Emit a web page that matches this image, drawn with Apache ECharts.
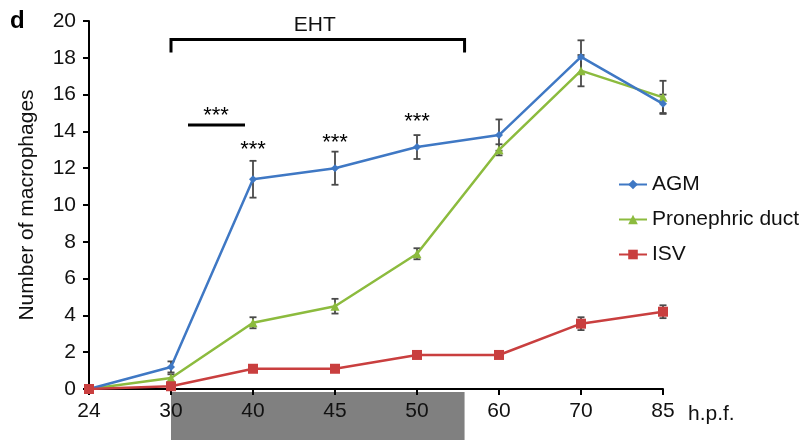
<!DOCTYPE html>
<html><head><meta charset="utf-8">
<script src="https://cdn.jsdelivr.net/npm/echarts@6/dist/echarts.min.js"></script>
<style>html,body{margin:0;padding:0;background:#fff}#c{width:804px;height:440px}</style>
</head><body><div id="c"></div>
<script>
var categories = ['24','30','40','45','50','60','70','85'];
var agm = [0, 1.2, 11.4, 12.0, 13.15, 13.8, 18.05, 15.5];
var agmErr = [0, 0.3, 1.0, 0.9, 0.65, 0.85, 0.9, 0.5];
var pro = [0, 0.6, 3.6, 4.5, 7.35, 13.0, 17.3, 15.85];
var proErr = [0, 0.2, 0.3, 0.4, 0.3, 0.3, 0.85, 0.9];
var isv = [0, 0.15, 1.1, 1.1, 1.85, 1.85, 3.55, 4.2];
var isvErr = [0, 0.1, 0.1, 0.05, 0.1, 0.1, 0.35, 0.35];
var sigLabels = [{idx:2, val:13.0, text:'***'}, {idx:3, val:13.4, text:'***'}, {idx:4, val:14.5, text:'***'}];

var colors = {agm:'#3f78c4', pro:'#8cbb3e', isv:'#c93f3f'};
var FONT = 'Liberation Sans, Arial, Helvetica, sans-serif';

function errSeries(vals, errs) {
  var d = vals.map(function(v,i){ return [i, v - errs[i], v + errs[i]]; });
  return {
    type:'custom', z:1, silent:true,
    renderItem:function(params, api){
      var x = api.value(0);
      var lo = api.coord([x, api.value(1)]);
      var hi = api.coord([x, api.value(2)]);
      var w = 3.5;
      var st = {stroke:'#4a4a4a', lineWidth:1.8};
      return {type:'group', children:[
        {type:'line', shape:{x1:lo[0],y1:lo[1],x2:hi[0],y2:hi[1]}, style:st},
        {type:'line', shape:{x1:lo[0]-w,y1:lo[1],x2:lo[0]+w,y2:lo[1]}, style:st},
        {type:'line', shape:{x1:hi[0]-w,y1:hi[1],x2:hi[0]+w,y2:hi[1]}, style:st}
      ]};
    },
    encode:{x:0, y:[1,2]},
    data:d
  };
}

var chart = echarts.init(document.getElementById('c'), null, {renderer:'canvas'});
var option = {
  animation:false,
  textStyle:{fontFamily:FONT},
  grid:{left:89, right:141, top:21, bottom:51, containLabel:false},
  legend:{
    orient:'vertical', left:613, top:169, itemGap:14, itemWidth:28, itemHeight:12,
    textStyle:{fontSize:21, color:'#111', fontFamily:FONT},
    data:['AGM','Pronephric duct','ISV']
  },
  xAxis:{
    type:'category', data:categories, boundaryGap:false,
    axisLine:{lineStyle:{color:'#000', width:2}},
    axisTick:{show:true, length:6, lineStyle:{color:'#000', width:2}},
    axisLabel:{fontSize:21, color:'#111', margin:12, fontFamily:FONT},
    splitLine:{show:false}
  },
  yAxis:{
    type:'value', min:0, max:20, interval:2,
    name:'Number of macrophages', nameLocation:'middle', nameRotate:90, nameGap:51,
    nameTextStyle:{fontSize:21, color:'#111', fontFamily:FONT},
    axisLine:{show:true, lineStyle:{color:'#000', width:2}},
    axisTick:{show:true, length:6, lineStyle:{color:'#000', width:2}},
    axisLabel:{fontSize:21, color:'#111', margin:13, fontFamily:FONT},
    splitLine:{show:false}
  },
  series:[
    errSeries(agm, agmErr),
    errSeries(pro, proErr),
    errSeries(isv, isvErr),
    {name:'AGM', type:'line', data:agm, z:3, color:colors.agm,
     symbol:'diamond', symbolSize:8, lineStyle:{width:2.5, color:colors.agm}, itemStyle:{color:colors.agm}},
    {name:'Pronephric duct', type:'line', data:pro, z:2, color:colors.pro,
     symbol:'triangle', symbolSize:9, lineStyle:{width:2.5, color:colors.pro}, itemStyle:{color:colors.pro}},
    {name:'ISV', type:'line', data:isv, z:4, color:colors.isv,
     symbol:'rect', symbolSize:10, lineStyle:{width:2.5, color:colors.isv}, itemStyle:{color:colors.isv}}
  ]
};
chart.setOption(option);

function px(idx, val){ return chart.convertToPixel({gridIndex:0}, [idx, val]); }
var p30 = px(1, 0), p50 = px(4, 0), p60 = px(5, 0);
var x0 = p30[0], x1 = p50[0] + (p60[0]-p50[0])*0.58;
var yb = px(0, 19.0)[1];
var graphics = [
  {type:'rect', z:0, shape:{x:x0, y:p30[1]+3, width:x1-x0, height:440-(p30[1]+3)}, style:{fill:'#808080'}},
  {type:'polyline', z:10, shape:{points:[[x0, yb+13],[x0, yb],[x1, yb],[x1, yb+13]]}, style:{stroke:'#000', lineWidth:3, fill:null}},
  {type:'text', z:10, x:(x0+x1)/2 - 3, y:25, style:{text:'EHT', fontSize:21, fontFamily:FONT, fill:'#111', align:'center', verticalAlign:'middle'}},
  {type:'text', z:10, x:10, y:21, style:{text:'d', fontSize:24, fontWeight:'bold', fontFamily:FONT, fill:'#000', align:'left', verticalAlign:'middle'}},
  {type:'text', z:10, x:688, y:414, style:{text:'h.p.f.', fontSize:21, fontFamily:FONT, fill:'#111', align:'left', verticalAlign:'middle'}},
  {type:'line', z:10, shape:{x1:188, y1:125, x2:245, y2:125}, style:{stroke:'#000', lineWidth:3}},
  {type:'text', z:10, x:216, y:116, style:{text:'***', fontSize:22, fontFamily:FONT, fill:'#000', align:'center', verticalAlign:'middle'}}
];
sigLabels.forEach(function(s){
  var p = px(s.idx, s.val);
  graphics.push({type:'text', z:10, x:p[0], y:p[1], style:{text:s.text, fontSize:22, fontFamily:FONT, fill:'#000', align:'center', verticalAlign:'middle'}});
});
chart.setOption({graphic:graphics});
</script>
</body></html>
